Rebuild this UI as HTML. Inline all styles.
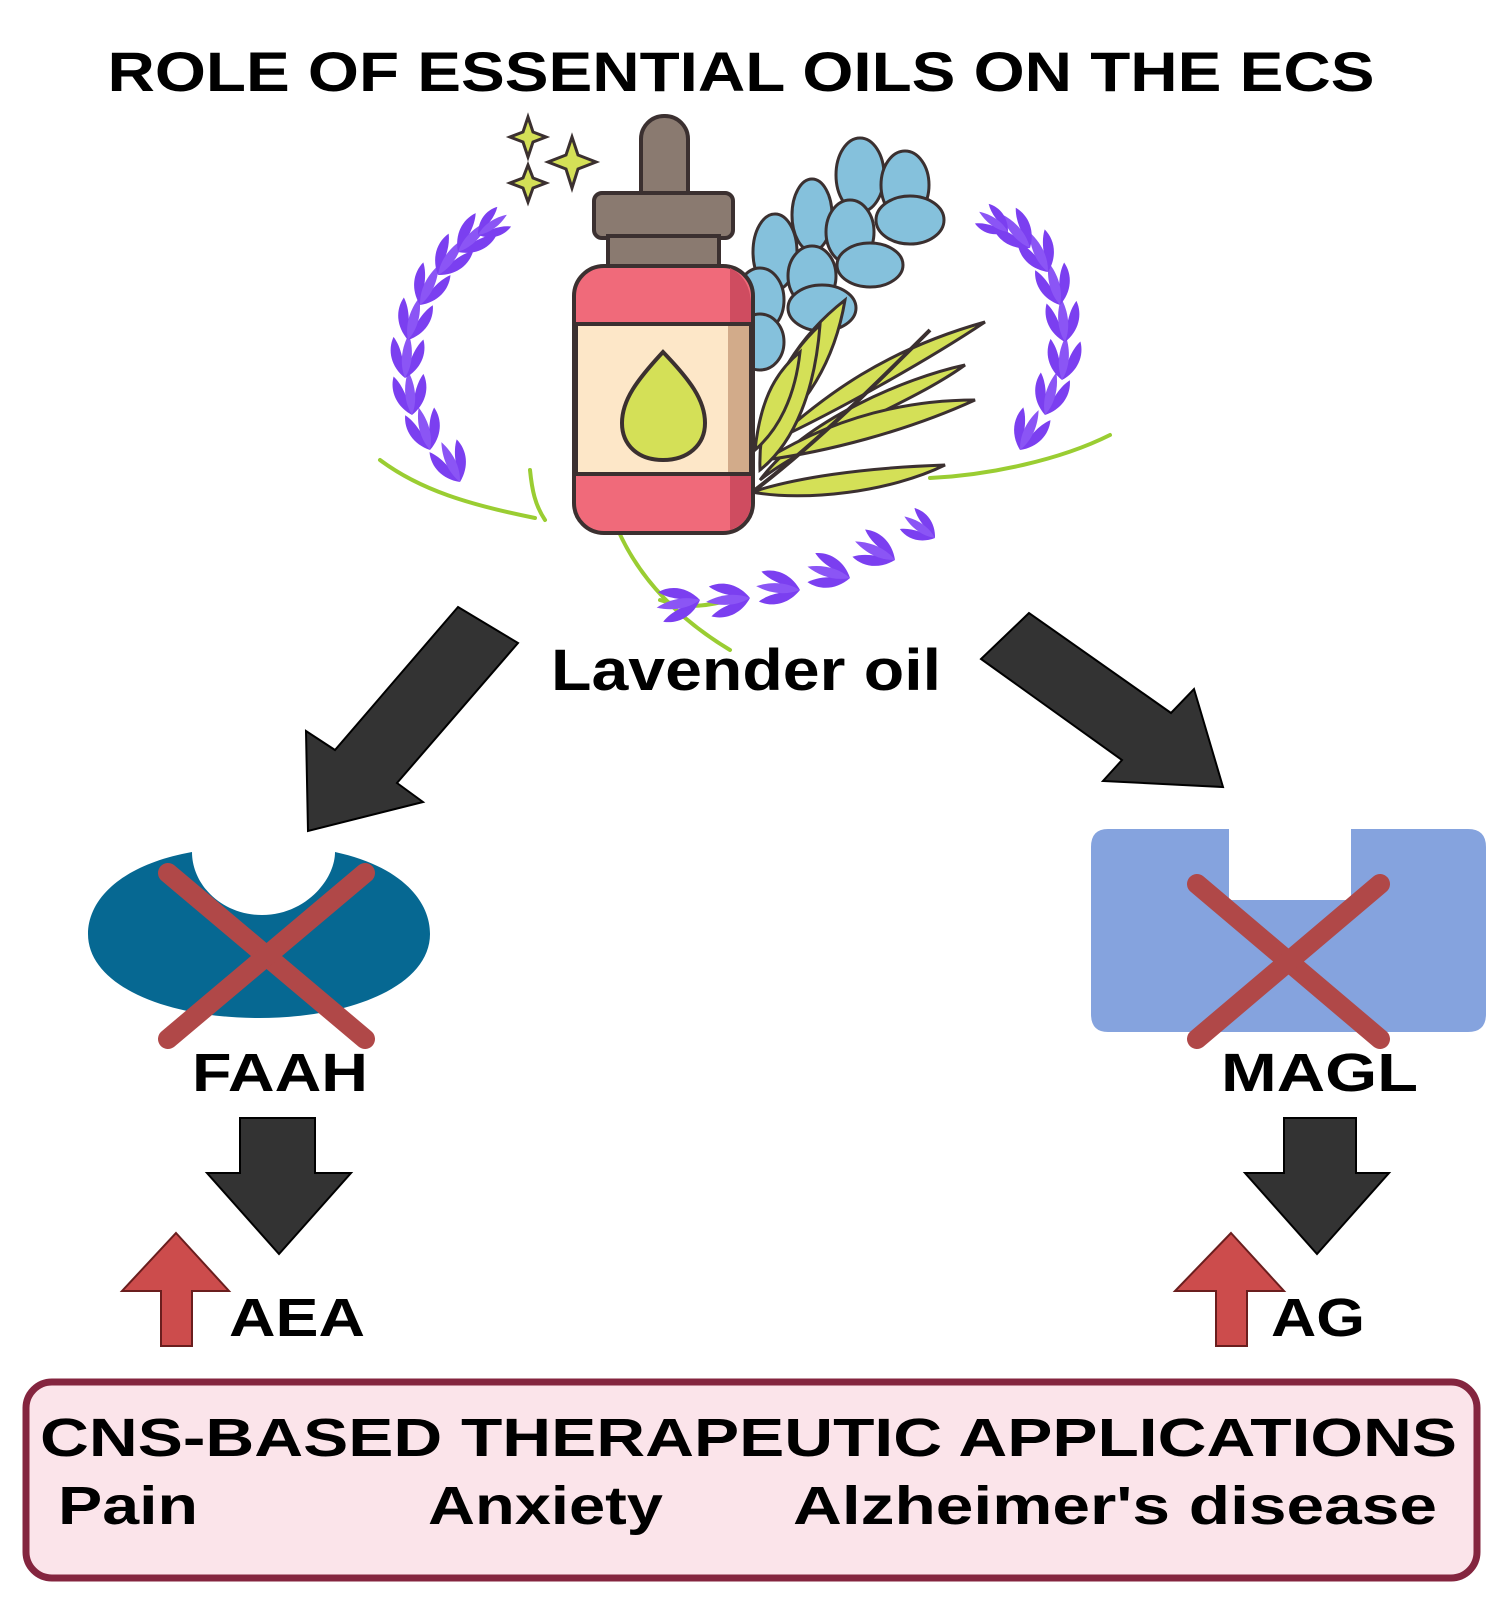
<!DOCTYPE html>
<html><head><meta charset="utf-8"><style>
html,body{margin:0;padding:0;background:#fff;}
svg{display:block;}
text{font-family:"Liberation Sans",sans-serif;font-weight:bold;fill:#000;}
</style></head><body>
<svg width="1500" height="1619" viewBox="0 0 1500 1619" xmlns="http://www.w3.org/2000/svg">
<defs>
<g id="bud">
<path d="M0,0 C-15,-10 -20,-26 -15,-40 C-6,-30 -3,-16 0,0 Z" fill="#7b3ff0"/>
<path d="M0,0 C15,-10 20,-26 15,-40 C6,-30 3,-16 0,0 Z" fill="#7b3ff0"/>
<path d="M0,0 C-7,-14 -6,-30 0,-44 C6,-30 7,-14 0,0 Z" fill="#8b55f5"/>
</g>
</defs>
<text x="741" y="91" font-size="56" text-anchor="middle" textLength="1267" lengthAdjust="spacingAndGlyphs">ROLE OF ESSENTIAL OILS ON THE ECS</text>

<g fill="none" stroke="#9acd32" stroke-width="4" stroke-linecap="round">
<path d="M380,460 C420,490 470,505 535,518"/>
<path d="M530,470 C532,490 535,505 545,520"/>
<path d="M1110,435 C1060,460 990,475 930,478"/>
<path d="M618,530 C640,580 680,620 730,650"/>
<path d="M660,600 C690,610 710,605 730,600"/>
</g>
<g>
<use href="#bud" transform="translate(460,482) rotate(-25)"/>
<use href="#bud" transform="translate(430,450) rotate(-15)"/>
<use href="#bud" transform="translate(412,415) rotate(-5)"/>
<use href="#bud" transform="translate(405,378) rotate(5)"/>
<use href="#bud" transform="translate(408,340) rotate(15)"/>
<use href="#bud" transform="translate(420,305) rotate(25)"/>
<use href="#bud" transform="translate(438,275) rotate(35)"/>
<use href="#bud" transform="translate(458,252) rotate(45)"/>
<use href="#bud" transform="translate(478,235) rotate(55) scale(0.8)"/>
</g>
<g>
<use href="#bud" transform="translate(1020,450) rotate(25)"/>
<use href="#bud" transform="translate(1045,415) rotate(15)"/>
<use href="#bud" transform="translate(1062,380) rotate(5)"/>
<use href="#bud" transform="translate(1065,342) rotate(-5)"/>
<use href="#bud" transform="translate(1060,305) rotate(-15)"/>
<use href="#bud" transform="translate(1048,272) rotate(-25)"/>
<use href="#bud" transform="translate(1030,248) rotate(-40)"/>
<use href="#bud" transform="translate(1008,232) rotate(-55) scale(0.8)"/>
</g>
<g>
<use href="#bud" transform="translate(700,600) rotate(-100)"/>
<use href="#bud" transform="translate(750,598) rotate(-95)"/>
<use href="#bud" transform="translate(800,590) rotate(-85)"/>
<use href="#bud" transform="translate(850,578) rotate(-75)"/>
<use href="#bud" transform="translate(895,560) rotate(-65)"/>
<use href="#bud" transform="translate(935,538) rotate(-55) scale(0.85)"/>
</g>
<g fill="#85c1dc" stroke="#3b3030" stroke-width="3">
<ellipse cx="860" cy="175" rx="24" ry="37"/>
<ellipse cx="905" cy="185" rx="24" ry="34"/>
<ellipse cx="910" cy="220" rx="34" ry="24"/>
<ellipse cx="812" cy="215" rx="20" ry="36"/>
<ellipse cx="850" cy="232" rx="24" ry="32"/>
<ellipse cx="870" cy="265" rx="33" ry="22"/>
<ellipse cx="775" cy="252" rx="22" ry="38"/>
<ellipse cx="812" cy="276" rx="24" ry="30"/>
<ellipse cx="822" cy="308" rx="34" ry="23"/>
<ellipse cx="760" cy="300" rx="24" ry="32"/>
<ellipse cx="760" cy="342" rx="24" ry="28"/>
</g>
<g fill="#d4e057" stroke="#3b3030" stroke-width="3">
<path d="M760,480 C810,440 910,405 965,365 C905,378 805,420 760,480Z"/>
<path d="M765,460 C830,420 900,400 975,400 C905,432 825,452 765,460Z"/>
<path d="M775,440 C825,395 885,350 985,322 C925,362 835,412 775,440Z"/>
<path d="M760,440 C768,385 800,335 845,300 C835,360 805,412 760,440Z"/>
<path d="M760,470 C758,415 780,362 820,325 C815,390 795,442 760,470Z"/>
<path d="M752,492 C795,478 860,468 945,465 C890,492 805,502 752,492Z"/>
<path d="M755,450 C760,405 772,375 800,352 C795,398 778,430 755,450Z"/>
</g>
<path d="M755,490 C820,440 880,380 930,330" fill="none" stroke="#3b3030" stroke-width="4"/>
<rect x="641" y="116" width="47" height="100" rx="23" fill="#8a7a70" stroke="#3b3030" stroke-width="4"/>
<rect x="594" y="193" width="139" height="45" rx="8" fill="#8a7a70" stroke="#3b3030" stroke-width="4"/>
<rect x="608" y="236" width="111" height="36" fill="#8a7a70" stroke="#3b3030" stroke-width="4"/>
<rect x="574" y="266" width="179" height="267" rx="30" fill="#f06a7a" stroke="#3b3030" stroke-width="4"/>
<path d="M730,268 C745,275 751,290 751,305 L751,500 C751,515 745,525 730,530 Z" fill="#cf4c60"/>
<rect x="576" y="324" width="175" height="150" fill="#fde7c8" stroke="#3b3030" stroke-width="4"/>
<rect x="728" y="326" width="21" height="146" fill="#d2ab8a"/>
<path d="M663,352 C690,380 705,400 705,423 C705,445 688,460 663,460 C638,460 622,445 622,423 C622,400 637,380 663,352Z" fill="#d4e057" stroke="#3b3030" stroke-width="4"/>
<g fill="#d4e057" stroke="#3b3030" stroke-width="3">
<path d="M528,117 L533,132 L546,137 L533,142 L528,157 L523,142 L510,137 L523,132Z"/>
<path d="M572,137 L578,155 L596,162 L578,169 L572,188 L566,169 L548,162 L566,155Z"/>
<path d="M528,165 L533,178 L546,183 L533,188 L528,202 L523,188 L510,183 L523,178Z"/>
</g>

<text x="551" y="690" font-size="58" textLength="390" lengthAdjust="spacingAndGlyphs">Lavender oil</text>
<polygon points="458,607 518,643 397,783 423,802 308,831 306,731 335,750" fill="#333" stroke="#000" stroke-width="2"/>
<polygon points="1029,613 981,659 1122,760 1103,781 1223,787 1194,689 1171,713" fill="#333" stroke="#000" stroke-width="2"/>

<path d="M192,852 C120,865 88,900 88,934 C88,985 165,1018 259,1018 C353,1018 430,985 430,934 C430,900 400,866 335,852 C335,880 305,915 262,915 C222,915 192,885 192,852Z" fill="#066892"/>
<g stroke="#b04848" stroke-width="20" stroke-linecap="round">
<line x1="168" y1="873" x2="365" y2="1039"/><line x1="365" y1="873" x2="168" y2="1039"/>
</g>
<text x="192" y="1091" font-size="54" textLength="176" lengthAdjust="spacingAndGlyphs">FAAH</text>

<path d="M1108,829 L1229,829 L1229,900 L1351,900 L1351,829 L1468,829 Q1486,829 1486,847 L1486,1014 Q1486,1032 1468,1032 L1108,1032 Q1091,1032 1091,1014 L1091,847 Q1091,829 1108,829Z" fill="#85a3de"/>
<g stroke="#b04848" stroke-width="20" stroke-linecap="round">
<line x1="1197" y1="884" x2="1380" y2="1039"/><line x1="1380" y1="884" x2="1197" y2="1039"/>
</g>
<text x="1221" y="1091" font-size="54" textLength="197" lengthAdjust="spacingAndGlyphs">MAGL</text>

<polygon points="240,1118 315,1118 315,1173 351,1173 279,1254 207,1173 240,1173" fill="#333" stroke="#000" stroke-width="2"/>
<polygon points="1284,1118 1356,1118 1356,1173 1389,1173 1317,1254 1245,1173 1284,1173" fill="#333" stroke="#000" stroke-width="2"/>
<polygon points="176,1233 229,1291 192,1291 192,1346 161,1346 161,1291 122,1291" fill="#cc4c4c" stroke="#6a1e1e" stroke-width="2"/>
<polygon points="1231,1233 1284,1291 1247,1291 1247,1346 1216,1346 1216,1291 1175,1291" fill="#cc4c4c" stroke="#6a1e1e" stroke-width="2"/>
<text x="229" y="1336" font-size="54" textLength="136" lengthAdjust="spacingAndGlyphs">AEA</text>
<text x="1271" y="1336" font-size="54" textLength="94" lengthAdjust="spacingAndGlyphs">AG</text>

<rect x="26" y="1382" width="1451" height="196" rx="26" fill="#fbe4ea" stroke="#84253f" stroke-width="7"/>
<text x="40" y="1456" font-size="54" textLength="1417" lengthAdjust="spacingAndGlyphs">CNS-BASED THERAPEUTIC APPLICATIONS</text>
<text x="58" y="1524" font-size="54" textLength="140" lengthAdjust="spacingAndGlyphs">Pain</text>
<text x="428" y="1524" font-size="54" textLength="235" lengthAdjust="spacingAndGlyphs">Anxiety</text>
<text x="793" y="1524" font-size="54" textLength="644" lengthAdjust="spacingAndGlyphs">Alzheimer's disease</text>
</svg>
</body></html>
